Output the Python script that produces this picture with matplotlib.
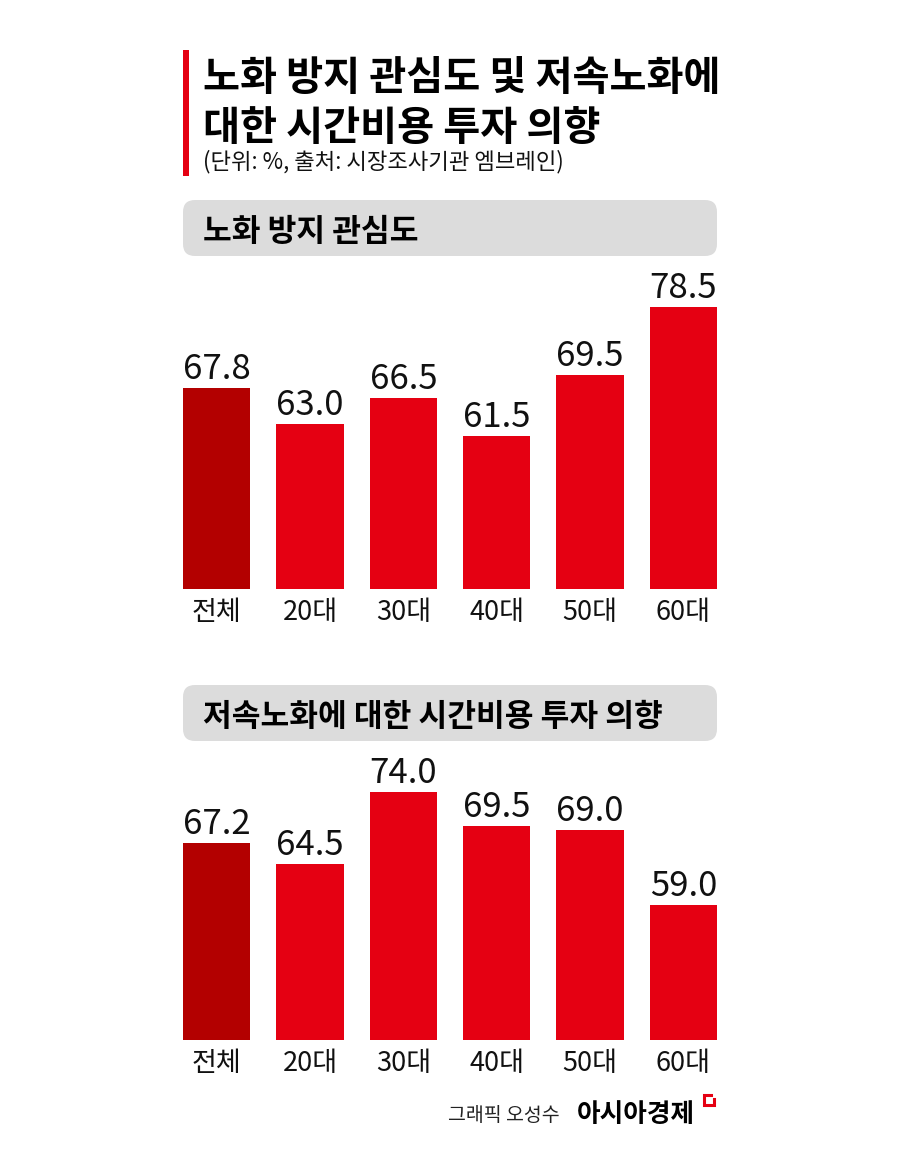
import matplotlib
matplotlib.use("Agg")
import matplotlib.pyplot as plt
from matplotlib.patches import FancyBboxPatch, Rectangle

plt.rcParams['font.family'] = ['Noto Sans CJK KR', 'DejaVu Sans']

# data
categories = ['전체', '20대', '30대', '40대', '50대', '60대']
interest = [67.8, 63.0, 66.5, 61.5, 69.5, 78.5]
invest = [67.2, 64.5, 74.0, 69.5, 69.0, 59.0]

title_lines = ['노화 방지 관심도 및 저속노화에', '대한 시간비용 투자 의향']
subtitle = '(단위: %, 출처: 시장조사기관 엠브레인)'
panel_titles = ['노화 방지 관심도', '저속노화에 대한 시간비용 투자 의향']
credit = '그래픽 오성수'
brand = '아시아경제'

RED = '#e50012'
DARK = '#b30000'
GRAY = '#dcdcdc'

W, H = 900, 1151
fig = plt.figure(figsize=(W / 100, H / 100), dpi=100)
fig.patch.set_facecolor('white')

# background axes in pixel coordinates
bg = fig.add_axes([0, 0, 1, 1], zorder=0)
bg.set_xlim(0, W)
bg.set_ylim(H, 0)
bg.axis('off')

# title block
bg.add_patch(Rectangle((183, 50), 6, 126, color=RED, lw=0))
bg.text(203, 90, title_lines[0], fontsize=29, fontweight='bold', va='baseline', ha='left')
bg.text(203, 140, title_lines[1], fontsize=29, fontweight='bold', va='baseline', ha='left')
bg.text(203, 168, subtitle, fontsize=16, va='baseline', ha='left', color='#111111')

# panel header boxes
for top, txt in zip([200, 685], panel_titles):
    bg.add_patch(FancyBboxPatch((183 + 12, top + 12), 534 - 24, 56 - 24,
                                boxstyle='round,pad=12', fc=GRAY, ec='none'))
    bg.text(203, top + 41, txt, fontsize=22.5, fontweight='bold', va='baseline', ha='left')

# footer
bg.text(448, 1121, credit, fontsize=14, va='baseline', ha='left', color='#222222')
bg.text(577, 1122, brand, fontsize=18.5, fontweight='bold', va='baseline', ha='left')
bg.plot([711, 704, 704, 714, 714], [1095, 1095, 1105, 1105, 1099], color=RED, lw=2.2,
        solid_joinstyle='miter')

px_per_unit = 7.56
base = 41.2


def bar_panel(top_px, bottom_px, values):
    h = bottom_px - top_px
    ax = fig.add_axes([183 / W, 1 - bottom_px / H, 534 / W, h / H], zorder=1)
    ax.patch.set_alpha(0)
    x = list(range(len(values)))
    colors = [DARK] + [RED] * (len(values) - 1)
    ax.bar(x, values, width=0.719, color=colors, bottom=0)
    ax.set_xlim(-0.3595, len(values) - 1 + 0.3595)
    ax.set_ylim(base, base + h / px_per_unit)
    ax.axis('off')
    for i, v in enumerate(values):
        ax.annotate(f'{v:.1f}', (i, v), xytext=(0, 9), textcoords='offset pixels',
                    ha='center', va='baseline', fontsize=25, color='#111111')
        ax.annotate(categories[i], (i, base), xytext=(0, -31), textcoords='offset pixels',
                    ha='center', va='baseline', fontsize=19.5, color='#111111',
                    annotation_clip=False)
    return ax


bar_panel(262, 589, interest)
bar_panel(750, 1040, invest)

fig.savefig('out.png', dpi=100)
